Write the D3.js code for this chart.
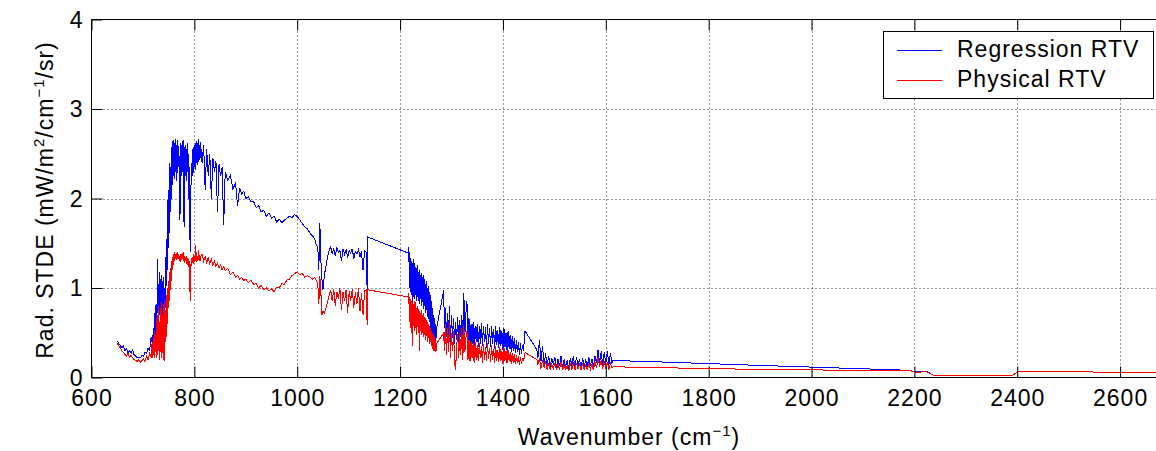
<!DOCTYPE html>
<html>
<head>
<meta charset="utf-8">
<script src="https://cdn.jsdelivr.net/npm/d3@7"></script>
<style>
  body { margin: 0; background: #fff; }
  svg text { font-family: "Liberation Sans", Arial, Helvetica, sans-serif; fill: #000; }
</style>
</head>
<body>
<svg id="chart" width="1156" height="451"></svg>
<script>
// ---- data ----
const wavenumber = [
  650,653,656,659,662,665,668,671,674,677,680,683,686,689,692,695,698,701,704,707,710,713,716,
  718,719,720,721,722,723,724,725,726,727,728,729,730,731,732,733,734,735,736,737,738,739,740,741,742,743,744,745,746,747,748,749,750,
  751,752,753,754,755,756,757,758,759,760,761,762,763,764,765,766,767,768,769,770,771,772,773,774,775,776,777,778,779,780,781,782,783,
  784,785,786,787,788,789,790,791,792,793,794,795,796,797,798,799,800,801,802,803,804,805,806,807,808,809,810,811,812,
  815,818,821,824,827,830,833,836,839,842,845,848,851,854,857,860,865,870,875,880,884,888,892,896,900,905,910,915,920,925,
  930,935,940,945,950,955,960,965,970,975,980,985,990,995,1000,1005,1010,1015,1020,1025,1030,1034,1037,1040,
  1042,1044,1046,1048,1050,1053,1056,1059,1062,1065,1068,1071,1074,1077,1080,1083,1086,1089,1092,1095,1098,1101,1104,1107,1110,1113,1116,1119,1122,1125,1128,1131,1134,1136,1137,1216,
  1217,1218,1219,1220,1221,1222,1223,1224,1225,1226,1227,1228,1229,1230,1231,1232,1233,1234,1235,1236,1237,1238,1239,1240,1241,1242,1243,1244,
  1245,1246,1247,1248,1249,1250,1251,1252,1253,1254,1255,1256,1257,1258,1259,1260,1261,1262,1263,1264,1265,1266,1267,1268,1269,1270,1271,1285,
  1286,1288,1290,1292,1294,1296,1298,1300,1302,1304,1306,1308,1310,1312,1314,1316,1318,1320,1322,1324,1326,1328,1330,1332,1334,1336,1338,1340,1342,
  1344,1346,1348,1350,1352,1354,1356,1358,1360,1362,1364,1366,1368,1370,1372,1374,1376,1378,1380,1382,1384,1386,1388,1390,1392,1394,1396,1398,
  1400,1402,1404,1406,1408,1410,1412,1414,1416,1418,1420,1422,1424,1426,1428,1430,1432,1434,1436,1438,1440,1443,
  1466,1468,1471,1474,1477,1480,1483,1486,1489,1492,1495,1498,1501,1504,1507,1510,1513,1516,1519,1522,1525,1528,1531,1534,1537,1540,
  1543,1546,1549,1552,1555,1558,1561,1564,1567,1570,1573,1576,1579,1582,1585,1588,1591,1594,1597,1600,1603,1606,1609,1612,1614,
  1700,1900,2193,2196,2212,2218,2226,2238,2390,2401,2545,2548,2700
];

const regressionRTV = [
  .41,.38,.36,.33,.35,.30,.32,.28,.30,.27,.31,.25,.24,.22,.23,.22,.25,.24,.28,.27,.33,.30,.45,
  .38,.48,.40,.55,.42,.62,.81,.45,.70,.50,1.32,.72,1.05,.66,1.18,.70,1.10,.64,1.15,.75,1.08,.62,1.12,.70,1.00,.78,1.35,1.02,1.55,1.20,1.98,1.45,2.10,
  1.62,2.40,1.85,2.35,2.00,2.58,2.15,2.64,2.25,2.65,2.22,2.62,2.30,2.66,2.20,2.60,2.28,2.65,2.35,2.55,2.10,1.76,2.40,2.62,2.25,2.58,2.30,2.65,2.20,1.68,2.45,2.60,2.25,
  2.55,2.20,2.62,2.30,2.50,2.00,2.35,1.70,1.40,1.90,2.40,2.15,2.55,2.25,2.58,2.28,2.60,2.35,2.62,2.32,2.64,2.40,2.62,2.38,2.66,2.42,2.60,2.45,2.63,
  2.40,2.60,2.10,2.55,2.25,2.50,2.00,2.45,2.30,2.42,1.85,2.38,2.25,2.35,1.70,2.30,2.20,2.26,2.10,2.18,1.92,2.12,2.05,2.08,2.00,2.02,1.96,1.97,1.90,1.92,
  1.85,1.87,1.80,1.84,1.78,1.80,1.74,1.77,1.73,1.76,1.78,1.80,1.79,1.82,1.80,1.76,1.72,1.68,1.66,1.61,1.58,1.55,1.48,1.46,
  1.20,1.73,1.30,1.10,.98,1.15,1.25,1.35,1.42,1.46,1.38,1.44,1.36,1.45,1.40,1.42,1.30,1.44,1.38,1.43,1.34,1.42,1.39,1.44,1.33,1.41,1.38,1.43,1.35,1.41,1.20,1.42,1.40,.98,1.57,1.39,
  1.46,1.00,1.40,.95,1.33,.92,1.30,.69,1.28,.90,1.32,.88,1.25,.92,1.22,.85,1.26,.90,1.18,.86,1.20,.82,1.15,.88,1.17,.80,1.12,.84,
  1.14,.76,1.10,.80,1.05,.72,1.08,.75,1.00,.68,1.02,.65,.95,.62,.92,.55,.85,.52,.78,.48,.70,.45,.66,.42,.60,.44,.55,.98,
  .55,.78,.45,.72,.42,.80,.40,.70,.44,.66,.38,.62,.42,.68,.40,.64,.45,.70,.42,.94,.48,.72,.85,.40,.66,.36,.60,.38,.62,
  .35,.58,.40,.60,.34,.57,.38,.61,.35,.58,.40,.56,.33,.60,.37,.55,.34,.58,.38,.54,.32,.57,.36,.53,.33,.56,.35,.52,
  .31,.55,.34,.50,.30,.52,.32,.48,.29,.46,.30,.44,.27,.42,.28,.40,.25,.38,.26,.36,.30,.52,
  .31,.22,.42,.18,.35,.15,.27,.13,.24,.12,.22,.14,.23,.11,.21,.13,.24,.10,.20,.12,.19,.10,.22,.13,.24,.11,
  .23,.13,.21,.10,.22,.12,.20,.11,.23,.13,.21,.12,.24,.16,.31,.16,.29,.14,.28,.15,.29,.14,.27,.16,.19,
  .175,.135,.08,.065,.065,.072,.065,.02,.02,.065,.065,.06,.055
];

const physicalRTV = [
  .38,.36,.33,.30,.28,.26,.24,.27,.23,.25,.22,.20,.19,.18,.20,.17,.19,.21,.18,.24,.20,.27,.22,
  .40,.22,.45,.25,.52,.22,.48,.28,.65,.22,.70,.25,.80,.30,.62,.20,.78,.28,.84,.22,.70,.30,.82,.18,.86,.40,.75,.45,.92,.60,1.00,.78,1.08,
  .86,1.18,.98,1.22,1.08,1.30,1.20,1.35,1.26,1.38,1.30,1.40,1.32,1.38,1.31,1.39,1.33,1.40,1.32,1.37,1.30,1.36,1.29,1.38,1.31,1.37,1.32,1.40,1.30,1.36,1.28,1.35,1.30,
  1.36,1.27,1.33,1.26,1.32,1.24,1.30,1.10,.85,1.20,1.33,1.25,1.35,1.28,1.38,1.27,1.34,1.30,1.48,1.30,1.40,1.29,1.36,1.30,1.42,1.31,1.37,1.30,1.35,
  1.38,1.30,1.35,1.28,1.34,1.27,1.32,1.25,1.30,1.24,1.28,1.22,1.26,1.20,1.24,1.19,1.22,1.15,1.18,1.12,1.14,1.10,1.12,1.08,1.10,1.06,1.09,1.04,1.05,1.00,
  1.03,.98,1.00,.97,.99,.96,1.01,1.00,1.05,1.04,1.09,1.10,1.14,1.16,1.18,1.15,1.16,1.12,1.14,1.12,1.10,1.12,1.08,1.05,
  .82,1.13,.95,.70,.74,.72,.78,.84,.92,.98,.85,.99,.80,.96,.88,1.00,.75,.95,.85,.98,.72,.96,.86,.99,.78,.95,.82,1.00,.74,.94,.70,.97,.98,.59,.98,.90,
  .94,.62,.90,.55,.88,.50,.86,.35,.84,.58,.82,.52,.85,.55,.78,.48,.80,.56,.76,.50,.74,.30,.72,.52,.75,.48,.70,.50,
  .72,.45,.68,.48,.66,.42,.64,.46,.62,.40,.60,.44,.58,.38,.55,.40,.52,.35,.50,.32,.48,.30,.45,.28,.42,.30,.38,.50,
  .30,.60,.25,.55,.28,.62,.22,.50,.30,.52,.15,.09,.35,.48,.22,.50,.25,.55,.20,.58,.28,.45,.52,.20,.42,.18,.40,.22,.38,
  .16,.40,.20,.36,.18,.38,.22,.35,.16,.37,.20,.34,.18,.38,.21,.33,.17,.36,.20,.32,.16,.35,.19,.31,.17,.34,.18,.30,
  .15,.33,.19,.30,.16,.31,.18,.28,.15,.27,.16,.26,.15,.25,.16,.24,.14,.23,.15,.22,.18,.28,
  .20,.14,.22,.10,.20,.11,.18,.09,.16,.08,.15,.10,.16,.08,.15,.09,.17,.08,.14,.09,.13,.07,.16,.09,.17,.08,
  .16,.10,.15,.08,.16,.09,.14,.08,.16,.09,.15,.08,.17,.11,.22,.12,.19,.10,.18,.11,.17,.09,.16,.11,.12,
  .11,.09,.075,.062,.06,.07,.06,.02,.02,.065,.065,.058,.055
];

const seriesNames = ["Regression RTV", "Physical RTV"];
const seriesColors = ["#0000ff", "#ff0000"];
const xTickValues = [600, 800, 1000, 1200, 1400, 1600, 1800, 2000, 2200, 2400, 2600];
const yTickValues = [0, 1, 2, 3, 4];
const xDomain = [600, 2700];
const yDomain = [0, 4];

// ---- drawing ----
const svg = d3.select("#chart");
const L = 91.5, T = 19.5, B = 377.5;
const pxPerUnit = 0.5143;
const R = L + (xDomain[1] - xDomain[0]) * pxPerUnit;

const x = d3.scaleLinear().domain(xDomain).range([L, R]);
const y = d3.scaleLinear().domain(yDomain).range([B, T]);

svg.append("defs").append("clipPath").attr("id", "plotclip")
  .append("rect").attr("x", L).attr("y", T).attr("width", R - L).attr("height", B - T);

// grid (dotted)
const grid = svg.append("g").attr("stroke", "#000").attr("stroke-width", 1)
  .attr("stroke-dasharray", "1,3").attr("fill", "none").attr("opacity", 0.8);
xTickValues.filter(v => v > xDomain[0]).forEach(v => {
  grid.append("line").attr("x1", Math.round(x(v)) + 0.5).attr("x2", Math.round(x(v)) + 0.5)
    .attr("y1", T).attr("y2", B);
});
yTickValues.filter(v => v > yDomain[0] && v < yDomain[1]).forEach(v => {
  grid.append("line").attr("y1", Math.round(y(v)) + 0.5).attr("y2", Math.round(y(v)) + 0.5)
    .attr("x1", L).attr("x2", R);
});

// data lines (aliased like the original raster rendering)
const pts = (vals) => wavenumber.map((w, i) => [w, vals[i]]);
const line = d3.line().x(d => x(d[0])).y(d => y(d[1]));
const plot = svg.append("g").attr("clip-path", "url(#plotclip)");
[regressionRTV, physicalRTV].forEach((vals, k) => {
  plot.append("path").datum(pts(vals)).attr("d", line)
    .attr("fill", "none").attr("stroke", seriesColors[k]).attr("stroke-width", 1)
    .attr("stroke-linejoin", "miter").attr("shape-rendering", "crispEdges");
});

// axes with inward ticks
const tickLen = 11;
const fontSize = 23;
const bottomAxis = d3.axisBottom(x).tickValues(xTickValues).tickSize(-tickLen)
  .tickFormat(d3.format("d"));
const gB = svg.append("g").attr("transform", `translate(0,${B})`).call(bottomAxis);
const topAxis = d3.axisTop(x).tickValues(xTickValues).tickSize(-tickLen).tickFormat("");
const gT = svg.append("g").attr("transform", `translate(0,${T})`).call(topAxis);
const leftAxis = d3.axisLeft(y).tickValues(yTickValues).tickSize(-tickLen)
  .tickFormat(d3.format("d"));
const gL = svg.append("g").attr("transform", `translate(${L},0)`).call(leftAxis);

[gB, gT, gL].forEach(g => {
  g.select(".domain").attr("stroke", "#000").attr("stroke-width", 1);
  g.selectAll(".tick line").attr("stroke", "#000");
  g.selectAll("text").attr("font-size", fontSize).attr("letter-spacing", "1px")
    .style("font-family", '"Liberation Sans", Arial, sans-serif').attr("fill", "#000");
});
gB.selectAll(".domain").attr("d", `M${L},0H${R}`);
gT.selectAll(".domain").attr("d", `M${L},0H${R}`);
gL.selectAll(".domain").attr("d", `M0,${B}V${T}`);
gB.selectAll(".tick text").attr("dy", null).attr("y", 28.5);
gL.selectAll(".tick text").attr("dy", "0.34em").attr("x", -8);

// axis labels
const xl = svg.append("text").attr("x", 629).attr("y", 445).attr("text-anchor", "middle")
  .attr("font-size", fontSize).attr("letter-spacing", "1px");
xl.append("tspan").text("Wavenumber (cm");
xl.append("tspan").attr("font-size", 15).attr("dy", -9).text("\u22121");
xl.append("tspan").attr("dy", 9).text(")");

const yl = svg.append("text").attr("transform", "translate(53,200) rotate(-90)")
  .attr("text-anchor", "middle").attr("font-size", fontSize).attr("letter-spacing", "1px");
yl.append("tspan").text("Rad. STDE (mW/m");
yl.append("tspan").attr("font-size", 15).attr("dy", -9).text("2");
yl.append("tspan").attr("dy", 9).text("/cm");
yl.append("tspan").attr("font-size", 15).attr("dy", -9).text("\u22121");
yl.append("tspan").attr("dy", 9).text("/sr)");

// legend
const lg = svg.append("g");
lg.append("rect").attr("x", 883.5).attr("y", 31.5).attr("width", 270).attr("height", 67)
  .attr("fill", "#fff").attr("stroke", "#000").attr("stroke-width", 1);
seriesNames.forEach((name, i) => {
  const yy = 50 + i * 30;
  lg.append("line").attr("x1", 897).attr("x2", 942).attr("y1", yy + 0.5).attr("y2", yy + 0.5)
    .attr("stroke", seriesColors[i]).attr("stroke-width", 1);
  lg.append("text").attr("x", 957).attr("y", yy + 7).attr("font-size", fontSize)
    .attr("letter-spacing", "1px").text(name);
});
</script>
</body>
</html>
